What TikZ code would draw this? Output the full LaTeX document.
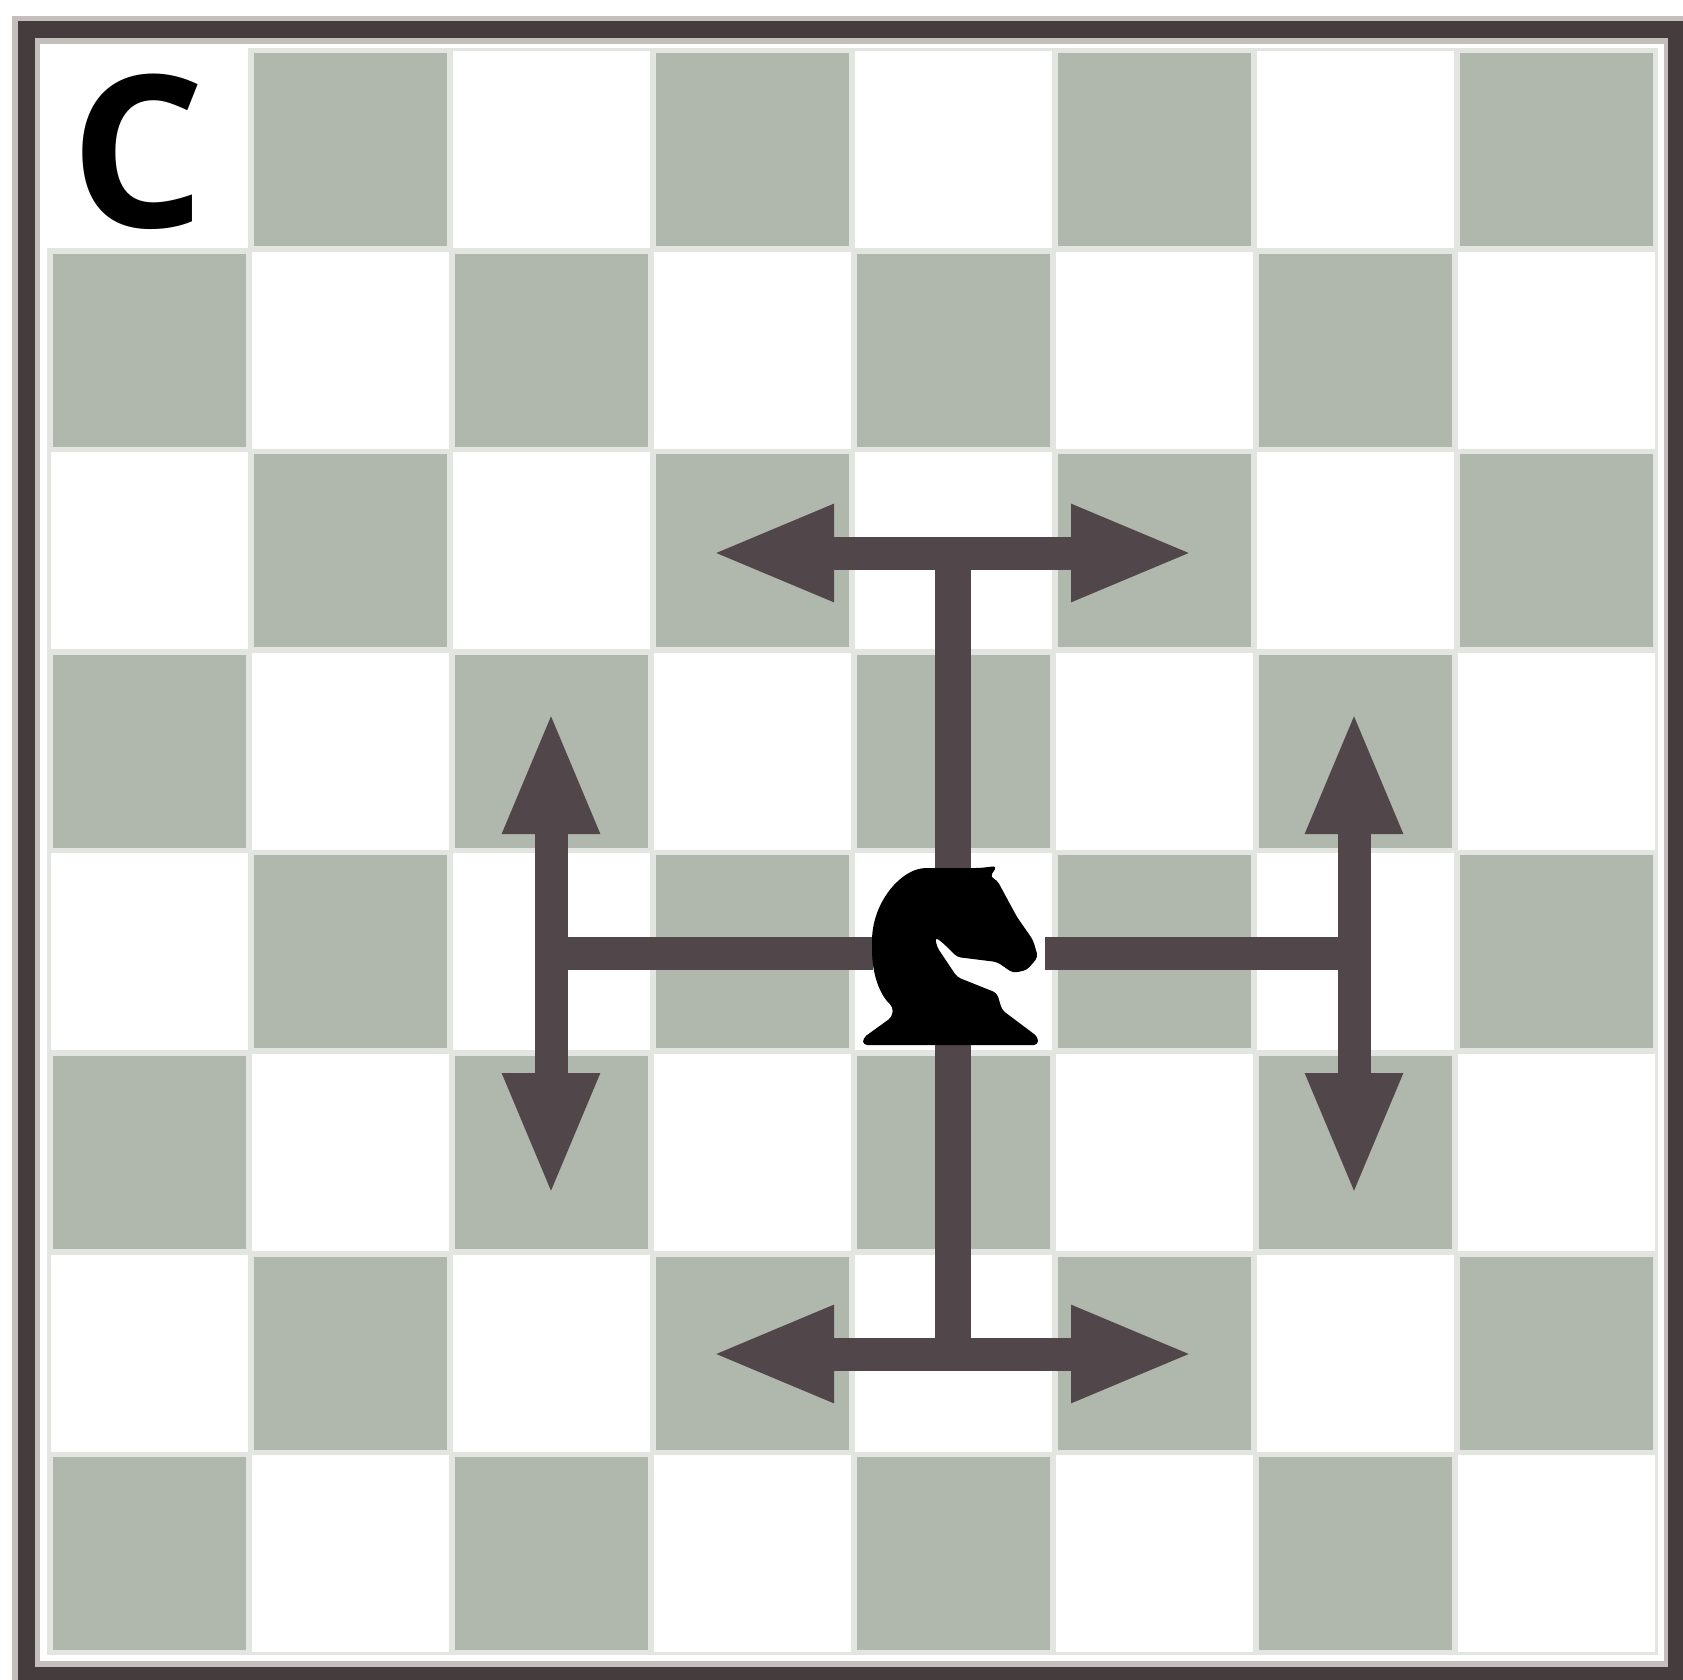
\documentclass[tikz,border=0pt]{standalone}
\usepackage{fontspec}
\setsansfont{Open Sans}
\usetikzlibrary{arrows.meta}
\definecolor{squaredark}{HTML}{B0B7AC}
\definecolor{squareline}{HTML}{E3E5E1}
\definecolor{framedark}{HTML}{453C3D}
\definecolor{framehalo}{HTML}{C4BFBD}
\definecolor{movecolor}{HTML}{51464A}
\begin{document}
\begin{tikzpicture}[
                    x=0.5pt, y=-0.5pt,
                    >={Triangle[length=62pt, width=44pt]},
                    move/.style={draw=movecolor, line width=16.5pt},
                    stem/.style={draw=movecolor, line width=18pt},
                    spot/.style={inner sep=0pt, minimum size=92pt}
            ]
                \clip (0,0) rectangle (1683,1680);
                \fill [white] (0,0) rectangle (1683,1680);
                % board
                \fill [squareline] (47,48) rectangle (1658,1655);
                \foreach \col in {0,...,7}
                    \foreach \row in {0,...,7} {
                        \pgfmathparse{int(mod(\col+\row,2))}
                        \ifnum\pgfmathresult=1
                            \fill [squaredark] (49+201*\col+4, 49+200.6*\row+4) rectangle (49+201*\col+197, 49+200.6*\row+197);
                        \else
                            \fill [white] (49+201*\col+2, 49+200.6*\row+2) rectangle (49+201*\col+199, 49+200.6*\row+199);
                        \fi
                    }
                \fill [white] (40,48) rectangle (248,248);
                % frame
                \draw [framehalo, line width=14pt] (26,30) rectangle (1678,1675);
                \draw [framedark, line width=8.5pt] (26,30) rectangle (1676,1675);
                \node (label) [inner sep=0pt, font=\sffamily\bfseries\fontsize{106}{106}\selectfont] at (138,152) {C};
                % moves
                \node (knight) [spot] at (953,953) {};
                \coordinate (topleft) at (710,553);
                \coordinate (topright) at (1195,553);
                \coordinate (topmid) at (953,553);
                \coordinate (bottomleft) at (710,1354);
                \coordinate (bottomright) at (1195,1354);
                \coordinate (bottommid) at (953,1354);
                \coordinate (leftup) at (551,710);
                \coordinate (leftdown) at (551,1197);
                \coordinate (leftmid) at (551,953);
                \coordinate (rightup) at (1354,710);
                \coordinate (rightdown) at (1354,1197);
                \coordinate (rightmid) at (1354,953);
                \draw [stem, shorten <=-4pt] (knight.north) -- (topmid);
                \draw [stem] (knight.south) -- (bottommid);
                \draw [move, shorten <=-6pt] (knight.west) -- (leftmid);
                \draw [move] (knight.east) -- (rightmid);
                \draw [move, <->] (topleft) -- (topright);
                \draw [move, <->] (bottomleft) -- (bottomright);
                \draw [move, <->] (leftup) -- (leftdown);
                \draw [move, <->] (rightup) -- (rightdown);
                % knight
                \fill [black, rounded corners=2pt] (863,1045) -- (1038,1045) -- (1038,1037) -- (1002,1010) -- (997,993) -- (957,977)
                    -- (937,947) -- (935,937) -- (943,943) -- (957,957) -- (997,962) -- (1013,973) -- (1027,970)
                    -- (1038,957) -- (1033,940) -- (1017,917) -- (997,880) -- (990,877) -- (997,866) -- (980,868)
                    -- (923,868) .. controls (897,874) and (872,905) .. (872,945)
                    .. controls (872,975) and (880,995) .. (893,1007) -- (892,1017) -- (863,1038) -- cycle;
            \end{tikzpicture}
\end{document}
